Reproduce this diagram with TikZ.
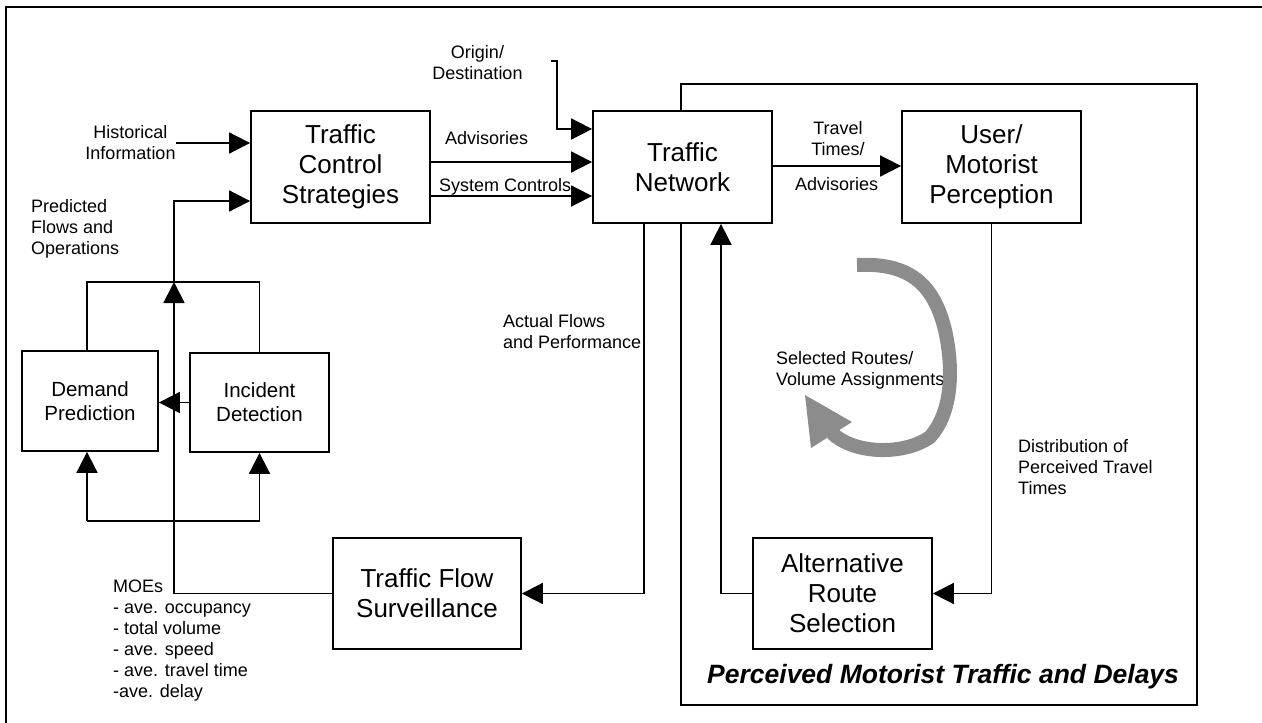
\documentclass[tikz,border=0pt]{standalone}
\usepackage{fontspec}
\setmainfont{Liberation Sans}
\usetikzlibrary{arrows.meta}

\newcommand\boxfont{\fontsize{26}{30}\selectfont}
\newcommand\midboxfont{\fontsize{20.5}{24}\selectfont}
\newcommand\lblfont{\fontsize{18}{21}\selectfont}

\begin{document}
\begin{tikzpicture}[x=1pt,y=-1pt,
  ln/.style={line width=1.8pt},
  arr/.style={-{Triangle[length=21pt,width=21pt]}},
  frm/.style={line width=1.8pt},
  box/.style={draw, line width=1.8pt, fill=white, align=center, inner sep=0pt, font=\boxfont},
  midbox/.style={box, font=\midboxfont},
  lbl/.style={inner sep=0pt, font=\lblfont},
  lbll/.style={lbl, align=left, anchor=north west},
  lblc/.style={lbl, align=center, anchor=north},
  loopcol/.style={black!45}
]
\useasboundingbox (0,0) rectangle (1262,723);

% outer border (top and left edges)
\draw[frm] (1262,7) -- (6,7) -- (6,723);

% region of motorist perception
\draw[frm] (681,84) rectangle (1197,705);
\node[anchor=base west, inner sep=0pt, font=\fontsize{26.5}{30}\selectfont\bfseries\itshape]
  (region) at (707,683) {Perceived Motorist Traffic and Delays};

% main blocks
\node[box, minimum width=179pt, minimum height=112pt] (tcs) at (340.5,167) {Traffic\\Control\\Strategies};
\node[box, minimum width=179pt, minimum height=112pt] (tn)  at (682.5,167) {Traffic\\Network};
\node[box, minimum width=179pt, minimum height=112pt] (ump) at (991.5,167) {User/\\Motorist\\Perception};
\node[midbox, minimum width=136pt, minimum height=100pt] (dp) at (90,401) {Demand\\Prediction};
\node[midbox, minimum width=139pt, minimum height=99pt] (id) at (259.5,402.5) {Incident\\Detection};
\node[box, minimum width=188pt, minimum height=111pt] (tfs) at (427,593.5) {Traffic Flow\\Surveillance};
\node[box, minimum width=179pt, minimum height=111pt] (ars) at (842.5,593.5) {Alternative\\Route\\Selection};

% labels
\node[lblc] (hist) at (130.5,125) {Historical\\Information};
\node[lbll] (pred) at (31,199) {Predicted\\Flows and\\Operations};
\node[lblc] (od) at (477.5,45) {Origin/\\Destination};
\node[lbll] (adv) at (445,131) {Advisories};
\node[lbll] (sysc) at (439,178) {System Controls};
\node[lblc] (tt) at (838,121) {Travel\\Times/};
\node[lbll] (adv2) at (795,177) {Advisories};
\node[lbll] (act) at (503,314) {Actual Flows\\and Performance};
\node[lbll] (sel) at (776,351) {Selected Routes/\\Volume Assignments};
\node[lbll] (dist) at (1018,439) {Distribution of\\Perceived Travel\\Times};
\node[lbll] (moe) at (113,580) {MOEs\\- ave. occupancy\\- total volume\\- ave. speed\\- ave. travel time\\-ave. delay};

% routing points
\coordinate (jn) at (174,282);
\coordinate (ypred) at (0,201);
\coordinate (yhist) at (0,143);
\coordinate (odstart) at (551,61);
\coordinate (odbend) at (557,61);
\coordinate (yod) at (0,129);
\coordinate (yadv) at (0,162);
\coordinate (ysys) at (0,196);
\coordinate (ytt) at (0,166);
\coordinate (actx) at (644,0);
\coordinate (upx) at (721,0);
\coordinate (bl) at (87,521);
\coordinate (br) at (259.5,521);

% connectors on the control side
\draw[ln,arr] (hist.east |- yhist) -- (tcs.west |- yhist);
\draw[ln,arr] (tfs.west) -| (jn);
\draw[ln,arr] (jn) |- (tcs.west |- ypred);
\draw[ln] ([xshift=-3pt]dp.north) |- (jn) -| (id.north);
\draw[ln,arr] (id.west) -- (id.west -| dp.east);
\draw[ln] (bl) -- (br);
\draw[ln,arr] (bl) -- (bl |- dp.south);
\draw[ln,arr] (br) -- (br |- id.south);

% inputs to the network
\draw[ln,arr] (odstart) -- (odbend) |- (tn.west |- yod);
\draw[ln,arr] (tcs.east |- yadv) -- (tn.west |- yadv);
\draw[ln,arr] (tcs.east |- ysys) -- (tn.west |- ysys);

% network and perception loop
\draw[ln,arr] (tn.east |- ytt) -- (ump.west |- ytt);
\draw[ln,arr] (tn.south -| actx) |- (tfs.east);
\draw[ln,arr] (ump.south) |- (ars.east);
\draw[ln,arr] (ars.west) -| (tn.south -| upx);

% broad shaded loop arrow
\draw[loopcol, line width=14pt]
  (857,265) .. controls (915,262) and (935,290) .. (945,330)
  .. controls (955,375) and (950,415) .. (930,437)
  .. controls (905,455) and (855,455) .. (832,433);
\fill[loopcol] (805,395) -- (852,422) -- (811,448) -- cycle;
\end{tikzpicture}
\end{document}
